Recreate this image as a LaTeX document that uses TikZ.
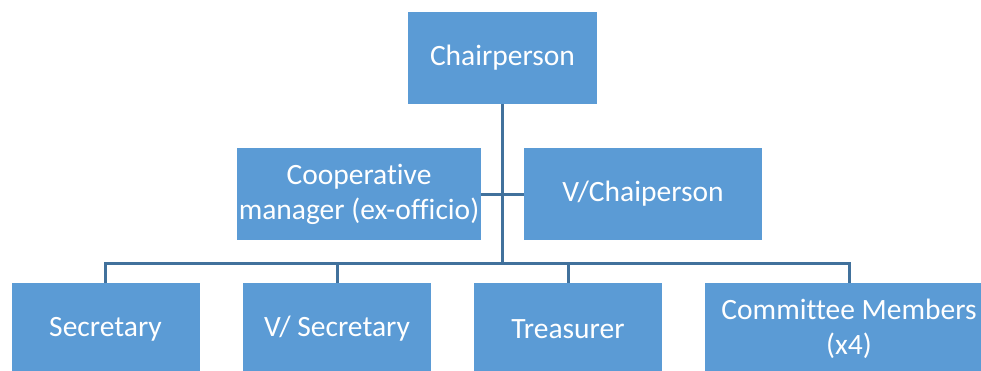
\documentclass[tikz,border=0pt]{standalone}
\usepackage{fontspec}
\setmainfont[Ligatures={NoCommon}]{Carlito}
\definecolor{boxblue}{HTML}{5B9BD5}
\definecolor{lineblue}{HTML}{41719C}
\begin{document}
\begin{tikzpicture}[x=1pt,y=-1pt,
  orgbox/.style={fill=boxblue,draw=none,text=white,align=center,
    minimum height=92pt,inner sep=0pt,
    font=\fontsize{29.5}{35}\selectfont},
  conn/.style={draw=lineblue,line width=3pt}]
\useasboundingbox (0,0) rectangle (981,370);
\clip (0,0) rectangle (981,370);
% boxes
\node[orgbox,minimum width=189pt] (chair) at (502.5,58) {Chairperson};
\node[orgbox,minimum width=244pt] (coop) at (359,194) {Cooperative\\manager (ex-officio)};
\node[orgbox,minimum width=238pt] (vchair) at (643,194) {V/Chaiperson};
\node[orgbox,minimum width=188pt] (sec) at (105.5,329) {Secretary};
\node[orgbox,minimum width=188pt] (vsec) at (337,329) {V/ Secretary};
\node[orgbox,minimum width=188pt] (treas) at (568,329) {Treasurer};
\node[orgbox,minimum width=288pt] (comm) at (849,329) {Committee Members\\(x4)};
% connectors
\coordinate (bus) at (502.5,263);
\draw[conn] (chair.south) -- (bus);
\draw[conn] (coop.east) -- (vchair.west);
\draw[conn] (sec.north) -- (sec.north |- bus) -- (comm.north |- bus) -- (comm.north);
\draw[conn] (vsec.north) -- (vsec.north |- bus);
\draw[conn] (treas.north) -- (treas.north |- bus);
\end{tikzpicture}
\end{document}
